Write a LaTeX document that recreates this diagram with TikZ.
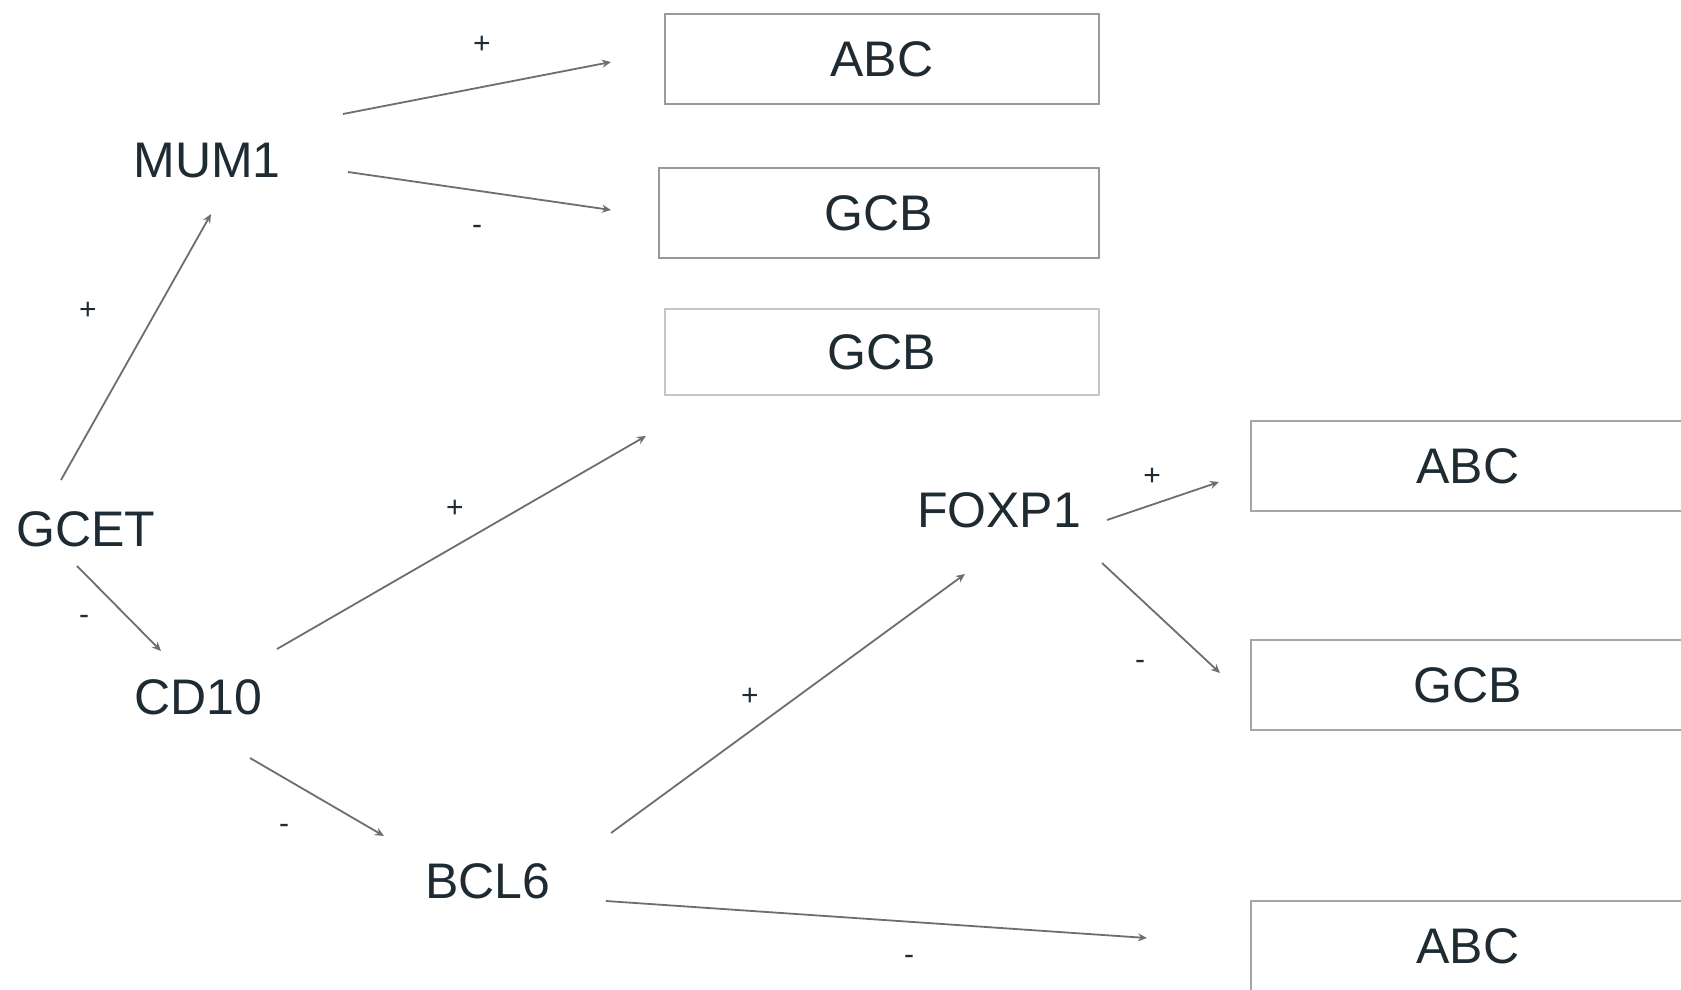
\documentclass[tikz,border=0pt]{standalone}
\usepackage{fontspec}
\setmainfont{Liberation Sans}
\usetikzlibrary{arrows.meta}
\definecolor{txt}{HTML}{1E2B33}
\definecolor{ln}{HTML}{6E6E6E}
\definecolor{bx}{HTML}{9A9A9A}
\tikzset{
  gene/.style={inner sep=0pt, text=txt, font=\fontsize{25}{28}\selectfont},
  cls/.style={draw=bx, line width=1.4pt, minimum width=217pt, minimum height=45pt, inner sep=0pt, text=txt, font=\fontsize{25}{28}\selectfont},
  sgn/.style={inner sep=0pt, text=txt, font=\fontsize{15}{17}\selectfont},
  arr/.style={draw=ln, line width=0.9pt, -{Stealth[length=4.5pt,width=4pt]}}
}
\begin{document}
\begin{tikzpicture}[x=0.5pt,y=-0.5pt]
\useasboundingbox (0,0) rectangle (1681,990);
\fill[white] (0,0) rectangle (1681,990);
% gene nodes
\node[gene] (mum1) at (207,161) {MUM1};
\node[gene] (gcet) at (86,529) {GCET};
\node[gene] (cd10) at (198,697) {CD10};
\node[gene] (bcl6) at (488,881) {BCL6};
\node[gene] (foxp1) at (999,510) {FOXP1};
% class boxes
\node[cls] (abc1) at (882,59) {ABC};
\node[cls, draw=gray!80, minimum width=220pt] (gcb1) at (879,213) {GCB};
\node[cls, draw=gray!45, minimum height=43pt] (gcb2) at (882,352) {GCB};
\begin{scope}
\clip (0,0) rectangle (1681,990);
\node[cls, draw=gray!70] (abc2) at (1468,466) {ABC};
\node[cls, draw=gray!70] (gcb3) at (1468,685) {GCB};
\node[cls, draw=gray!70] (abc3) at (1468,946) {ABC};
\end{scope}
% connectors
\draw[arr] ([shift={(-25,-49)}]gcet.center) -- ([shift={(4,53)}]mum1.center);
\draw[arr] ([shift={(-9,37)}]gcet.center) -- ([shift={(-37,-46)}]cd10.center);
\draw[arr] ([shift={(136,-47)}]mum1.center) -- ([shift={(-271,3)}]abc1.center);
\draw[arr] ([shift={(141,11)}]mum1.center) -- ([shift={(-268,-3)}]gcb1.center);
\draw[arr] ([shift={(79,-48)}]cd10.center) -- ([shift={(-236,84)}]gcb2.center);
\draw[arr] ([shift={(52,61)}]cd10.center) -- ([shift={(-104,-45)}]bcl6.center);
\draw[arr] ([shift={(123,-48)}]bcl6.center) -- ([shift={(-34,64)}]foxp1.center);
\draw[arr] ([shift={(118,20)}]bcl6.center) -- ([shift={(-321,-8)}]abc3.center);
\draw[arr] ([shift={(108,10)}]foxp1.center) -- ([shift={(-249,16)}]abc2.center);
\draw[arr] ([shift={(103,53)}]foxp1.center) -- ([shift={(-248,-12)}]gcb3.center);
% signs
\node[sgn] (s1) at (88,311) {+};
\node[sgn] (s2) at (84,620) {-};
\node[sgn] (s3) at (482,45) {+};
\node[sgn] (s4) at (477,230) {-};
\node[sgn] (s5) at (455,509) {+};
\node[sgn] (s6) at (284,829) {-};
\node[sgn] (s7) at (750,697) {+};
\node[sgn] (s8) at (909,960) {-};
\node[sgn] (s9) at (1152,477) {+};
\node[sgn] (s10) at (1140,665) {-};
\end{tikzpicture}
\end{document}
